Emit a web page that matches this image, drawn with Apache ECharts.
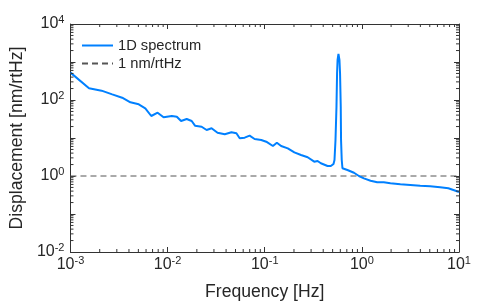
<!DOCTYPE html>
<html>
<head>
<meta charset="utf-8">
<script src="https://cdn.jsdelivr.net/npm/echarts@6/dist/echarts.min.js"></script>
<style>
html,body{margin:0;padding:0;background:#fff;}
#c{width:498px;height:307px;}
</style>
</head>
<body>
<div id="c"></div>
<script>
// Frequency [Hz] of the measured 1D spectrum
const freq = [
  0.001, 0.001552, 0.002089, 0.002691, 0.003404, 0.004140, 0.005044, 0.005892,
  0.006789, 0.007890, 0.009091, 0.01105, 0.01244, 0.01376, 0.01573, 0.01770,
  0.01914, 0.02240, 0.02521, 0.02836, 0.03266, 0.03879, 0.04541, 0.05108,
  0.05523, 0.06215, 0.06988, 0.07863, 0.09208, 0.1036, 0.1213, 0.1333,
  0.1475, 0.1727, 0.2018, 0.2363, 0.2767, 0.3232, 0.3500, 0.3784,
  0.4431, 0.4789, 0.5105, 0.5226, 0.5352, 0.5477, 0.5555, 0.5622,
  0.5741, 0.5878, 0.5961, 0.6061, 0.6104, 0.6206, 0.6310, 0.7097,
  0.8292, 0.9328, 1.050, 1.229, 1.439, 1.681, 1.968, 2.491,
  3.153, 3.990, 5.050, 6.392, 7.772, 8.744, 10
];
// Displacement [nm/rtHz]
const disp = [
  525, 203, 176, 141, 115, 86.9, 77.0, 60.5,
  37.9, 46.3, 35.1, 37.9, 36.4, 28.0, 31.6, 28.0,
  21.1, 19.8, 16.2, 18.0, 13.8, 12.5, 14.1, 13.3,
  9.82, 10.2, 11.5, 9.41, 8.86, 7.99, 6.16, 7.52,
  6.16, 5.35, 4.20, 3.57, 3.11, 2.38, 2.48, 2.16,
  1.83, 1.83, 2.07, 2.64, 8.86, 66.6, 504, 1129,
  1625, 1129, 504, 66.6, 8.86, 2.64, 1.60, 1.44,
  1.22, 1.00, 0.869, 0.752, 0.683, 0.683, 0.643, 0.605,
  0.580, 0.556, 0.536, 0.505, 0.474, 0.428, 0.379
];
// Reference line: 1 nm/rtHz
const refFreq = [0.001, 10];
const refDisp = [1, 1];

const seriesNames = ['1D spectrum', '1 nm/rtHz'];
const xLabel = 'Frequency [Hz]';
const yLabel = 'Displacement [nm/rtHz]';
const xRange = [0.001, 10];
const yRange = [0.01, 10000];
const xDecades = [0.001, 0.01, 0.1, 1, 10];
const yDecades = [0.01, 0.1, 1, 10, 100, 1000, 10000];

function minorList(decades) {
  const out = [];
  for (let i = 0; i < decades.length - 1; i++) {
    for (let m = 2; m <= 9; m++) out.push(decades[i] * m);
  }
  return out;
}
const xMinor = minorList(xDecades);
const yMinor = minorList(yDecades);

const fontFam = '"Liberation Sans", Arial, Helvetica, sans-serif';
const textInk = '#262626';
const frameInk = '#333333';

function powLabel(v, skipOdd) {
  const e = Math.round(Math.log10(v));
  if (skipOdd && Math.abs(e) % 2 === 1) return '';
  return '{b|10}{s|' + e + '}';
}
const rich = {
  b: { fontSize: 16, fontFamily: fontFam, color: textInk },
  s: { fontSize: 11, fontFamily: fontFam, color: textInk, padding: [0, 0, 9, 0] }
};
function frameLine() { return { show: true, onZero: false, lineStyle: { color: frameInk, width: 1, opacity: 1 } }; }
function frameTick() { return { show: true, inside: true, length: 5, lineStyle: { color: frameInk, width: 1, opacity: 1 } }; }

const chart = echarts.init(document.getElementById('c'), null, { renderer: 'canvas' });
chart.setOption({
  animation: false,
  grid: { left: 68, top: 24, right: 39, bottom: 55 },
  legend: {
    orient: 'vertical', left: 81, top: 38, padding: 0, itemWidth: 31, itemHeight: 14, itemGap: 3,
    data: seriesNames,
    itemStyle: { color: 'transparent', borderColor: 'transparent', borderWidth: 0, opacity: 0 },
    textStyle: { fontSize: 14.7, fontFamily: fontFam, color: textInk }
  },
  xAxis: [
    {
      type: 'log', logBase: 10, min: xRange[0], max: xRange[1], position: 'bottom',
      name: xLabel, nameLocation: 'middle', nameGap: 31,
      nameTextStyle: { fontSize: 17.6, fontFamily: fontFam, color: textInk },
      axisLine: frameLine(), axisTick: frameTick(), splitLine: { show: false },
      axisLabel: { margin: 3, formatter: function (v) { return powLabel(v, false); }, rich: rich }
    },
    {
      type: 'log', logBase: 10, min: xRange[0], max: xRange[1], position: 'top',
      axisLine: frameLine(), axisTick: frameTick(), splitLine: { show: false },
      axisLabel: { show: false }
    }
  ],
  yAxis: [
    {
      type: 'log', logBase: 10, min: yRange[0], max: yRange[1], position: 'left',
      name: yLabel, nameLocation: 'middle', nameGap: 36,
      nameTextStyle: { fontSize: 17.6, fontFamily: fontFam, color: textInk },
      axisLine: frameLine(), axisTick: frameTick(), splitLine: { show: false },
      axisLabel: { margin: 6, formatter: function (v) { return powLabel(v, true); }, rich: rich }
    },
    {
      type: 'log', logBase: 10, min: yRange[0], max: yRange[1], position: 'right',
      axisLine: frameLine(), axisTick: frameTick(), splitLine: { show: false },
      axisLabel: { show: false }
    }
  ],
  series: [
    {
      name: seriesNames[0], type: 'line', symbol: 'none', showSymbol: false,
      xAxisIndex: 0, yAxisIndex: 0,
      data: freq.map(function (f, i) { return [f, disp[i]]; }),
      lineStyle: { color: '#0080ff', width: 2 }, itemStyle: { color: '#0080ff' }, z: 3
    },
    {
      name: seriesNames[1], type: 'line', symbol: 'none', showSymbol: false,
      xAxisIndex: 0, yAxisIndex: 0,
      data: refFreq.map(function (f, i) { return [f, refDisp[i]]; }),
      lineStyle: { color: '#555555', width: 1, type: [6, 4] }, itemStyle: { color: '#555555' }, z: 2
    }
  ]
});

// Minor log ticks, as short segments placed through the chart's own scales
try {
  const toPx = function (x, y) { return chart.convertToPixel({ xAxisIndex: 0, yAxisIndex: 0 }, [x, y]); };
  const toData = function (px, py) { return chart.convertFromPixel({ xAxisIndex: 0, yAxisIndex: 0 }, [px, py]); };
  const pLo = toPx(xRange[0], yRange[0]);
  const pHi = toPx(xRange[1], yRange[1]);
  const len = 3;
  const gap = ['-', '-'];
  const tickData = [];
  xMinor.forEach(function (v) {
    const px = toPx(v, 1)[0];
    tickData.push([v, yRange[0]], [v, toData(px, pLo[1] - len)[1]], gap);
    tickData.push([v, yRange[1]], [v, toData(px, pHi[1] + len)[1]], gap);
  });
  yMinor.forEach(function (v) {
    const py = toPx(1, v)[1];
    tickData.push([xRange[0], v], [toData(pLo[0] + len, py)[0], v], gap);
    tickData.push([xRange[1], v], [toData(pHi[0] - len, py)[0], v], gap);
  });
  chart.setOption({
    series: [
      {}, {},
      {
        name: 'minorTicks', type: 'line', symbol: 'none', showSymbol: false, clip: false, silent: true,
        xAxisIndex: 0, yAxisIndex: 0,
        data: tickData, lineStyle: { color: frameInk, width: 1 }, z: 4
      }
    ]
  });
} catch (e) { }
</script>
</body>
</html>
